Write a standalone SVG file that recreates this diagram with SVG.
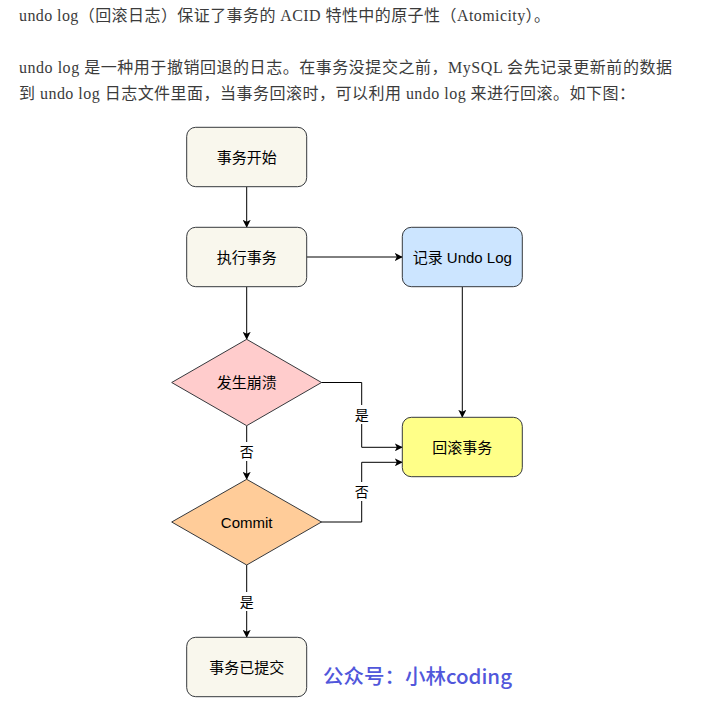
<svg xmlns="http://www.w3.org/2000/svg" width="721" height="713" viewBox="0 0 721 713">
<style>
.para{font-family:"Liberation Serif","Noto Sans CJK SC",serif;font-size:16px;fill:#3b3b3b}
.node rect,.node polygon{stroke:#36393d;stroke-width:1}
.lbl{font-family:"Liberation Sans","Noto Sans CJK SC",sans-serif;font-size:15px;fill:#000;text-anchor:middle;dominant-baseline:central}
.elbl{font-family:"Liberation Sans","Noto Sans CJK SC",sans-serif;font-size:14px;fill:#000;text-anchor:middle;dominant-baseline:central}
.edge{fill:none;stroke:#000;stroke-width:1}
</style>
<defs>
<marker id="arr" viewBox="0 0 10 10" refX="9" refY="5" markerWidth="8" markerHeight="8" markerUnits="userSpaceOnUse" orient="auto">
<path d="M0,0 L10,5 L0,10 L2.5,5 Z" fill="#000"/>
</marker>
</defs>
<rect width="721" height="713" fill="#fff"/>
<g id="paragraph">
<text class="para" x="19" y="21" textLength="531" lengthAdjust="spacing">undo log（回滚日志）保证了事务的 ACID 特性中的原子性（Atomicity）。</text>
<text class="para" x="19" y="73" textLength="653" lengthAdjust="spacing">undo log 是一种用于撤销回退的日志。在事务没提交之前，MySQL 会先记录更新前的数据</text>
<text class="para" x="19" y="99" textLength="616" lengthAdjust="spacing">到 undo log 日志文件里面，当事务回滚时，可以利用 undo log 来进行回滚。如下图：</text>
</g>
<g id="connectors">
<path class="edge" d="M246.7,187 V227" marker-end="url(#arr)"/>
<path class="edge" d="M306.7,257 H402" marker-end="url(#arr)"/>
<path class="edge" d="M246.7,287 V339" marker-end="url(#arr)"/>
<path class="edge" d="M462.3,287 V417" marker-end="url(#arr)"/>
<path class="edge" d="M321,382.5 H361.7 V447.3 H402" marker-end="url(#arr)"/>
<path class="edge" d="M321,522 H361.7 V462.3 H402" marker-end="url(#arr)"/>
<path class="edge" d="M246.7,426 V479" marker-end="url(#arr)"/>
<path class="edge" d="M246.7,565 V637" marker-end="url(#arr)"/>
<rect x="353" y="405" width="17" height="19" fill="#fff"/>
<text class="elbl" x="361.7" y="414.5">是</text>
<rect x="353" y="482" width="17" height="19" fill="#fff"/>
<text class="elbl" x="361.7" y="491.5">否</text>
<rect x="238" y="442" width="17" height="19" fill="#fff"/>
<text class="elbl" x="246.7" y="451.5">否</text>
<rect x="238" y="592" width="17" height="19" fill="#fff"/>
<text class="elbl" x="246.7" y="601.5">是</text>
</g>
<g id="start" class="node">
<rect x="186.7" y="127.3" width="120" height="59.4" rx="9" fill="#f9f7ed"/>
<text class="lbl" x="246.7" y="157">事务开始</text>
</g>
<g id="exec" class="node">
<rect x="186.7" y="227.3" width="120" height="59.4" rx="9" fill="#f9f7ed"/>
<text class="lbl" x="246.7" y="257">执行事务</text>
</g>
<g id="undolog" class="node">
<rect x="402.3" y="227.3" width="120" height="59.4" rx="9" fill="#cce5ff"/>
<text class="lbl" x="462.3" y="257">记录 Undo Log</text>
</g>
<g id="crash" class="node">
<polygon points="246.7,339.3 321.5,382.5 246.7,425.7 171.7,382.5" fill="#ffcccc"/>
<text class="lbl" x="246.7" y="382.5">发生崩溃</text>
</g>
<g id="rollback" class="node">
<rect x="402.3" y="417.3" width="120" height="59.4" rx="9" fill="#ffff88"/>
<text class="lbl" x="462.3" y="447">回滚事务</text>
</g>
<g id="commit" class="node">
<polygon points="246.7,479.3 321.5,522 246.7,565 171.7,522" fill="#ffcc99"/>
<text class="lbl" x="246.7" y="522">Commit</text>
</g>
<g id="committed" class="node">
<rect x="186.7" y="637.3" width="120" height="59.4" rx="9" fill="#f9f7ed"/>
<text class="lbl" x="246.7" y="667">事务已提交</text>
</g>
<g id="watermark">
<text x="323" y="675" textLength="189" lengthAdjust="spacingAndGlyphs" style="font-family:'Noto Sans CJK SC',sans-serif;font-size:20px;font-weight:500;fill:#5157db;dominant-baseline:central">公众号：小林coding</text>
</g>
</svg>
